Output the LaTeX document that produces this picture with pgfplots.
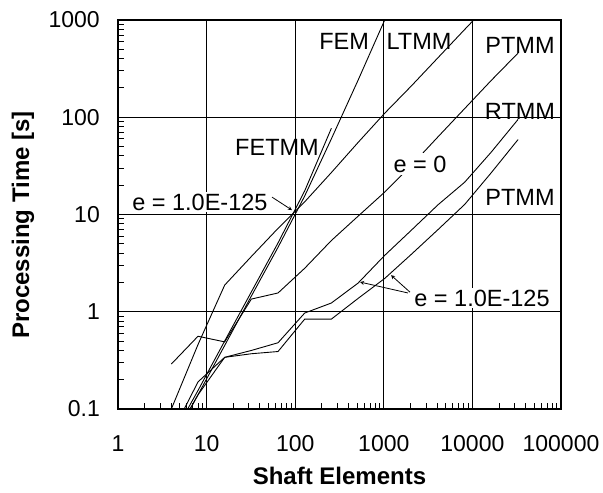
\documentclass[border=0pt]{standalone}
\usepackage{fontspec}
\setmainfont{Liberation Sans}
\usepackage{pgfplots}
\pgfplotsset{compat=1.18}
\begin{document}
\begin{tikzpicture}
\begin{loglogaxis}[
  name=ax,
  scale only axis,
  width=443pt, height=389pt,
  xmin=1, xmax=100000, ymin=0.1, ymax=1000,
  xtick={1,10,100,1000,10000,100000},
  xticklabels={1,10,100,1000,10000,100000},
  ytick={0.1,1,10,100,1000},
  yticklabels={0.1,1,10,100,1000},
  minor xtick={2,3,4,5,6,7,8,9,20,30,40,50,60,70,80,90,200,300,400,500,600,700,800,900,2000,3000,4000,5000,6000,7000,8000,9000,20000,30000,40000,50000,60000,70000,80000,90000},
  minor ytick={0.2,0.3,0.4,0.5,0.6,0.7,0.8,0.9,2,3,4,5,6,7,8,9,20,30,40,50,60,70,80,90,200,300,400,500,600,700,800,900},
  grid=major,
  major grid style={black, line width=1.2pt},
  axis line style={line width=1.2pt},
  xtick pos=bottom, ytick pos=left, tick align=inside,
  major tick length=6pt, minor tick length=6pt,
  tick style={black, line width=1pt},
  ticklabel style={font=\fontsize{23}{27}\selectfont, inner sep=0pt},
  xticklabel style={anchor=north, yshift=-26pt},
  yticklabel style={anchor=east, xshift=-18pt},
  xlabel={Shaft Elements}, ylabel={Processing Time [s]},
  label style={font=\bfseries\fontsize{24}{28}\selectfont},
  xlabel style={at={(axis description cs:0.5,-0.172)}, anchor=center},
  ylabel style={at={(axis description cs:-0.2144,0.473)}, anchor=center},
  crv/.style={black, line width=0.9pt, mark=none},
]
% FEM
\addplot[crv] coordinates {(4,0.045) (8,0.14) (16,0.45) (32,1.45) (64,4.6) (128,15.5) (256,60) (512,240) (1024,1000)};
% FETMM
\addplot[crv] coordinates {(4,0.05) (8,0.155) (16,0.5) (32,1.6) (64,5.1) (128,17.5) (256,77)};
% LTMM
\addplot[crv] coordinates {(4,0.1) (8,0.46) (16,1.88) (32,3.7) (64,7.2) (128,13.5) (256,27) (512,55) (1024,110) (2048,210) (4096,410) (8192,800) (16384,1550)};
% PTMM, e = 0
\addplot[crv] coordinates {(4,0.29) (8,0.56) (16,0.49) (32,1.35) (64,1.56) (128,2.8) (256,5.4) (512,9.6) (1024,17) (2048,32) (4096,63) (8192,123) (16384,240) (32768,457)};
% RTMM, e = 1.0E-125
\addplot[crv] coordinates {(4,0.055) (8,0.19) (16,0.34) (32,0.4) (64,0.48) (128,0.97) (256,1.23) (512,1.97) (1024,3.8) (2048,6.9) (4096,12.6) (8192,21.5) (16384,44) (32768,95)};
% PTMM, e = 1.0E-125
\addplot[crv] coordinates {(4,0.045) (8,0.14) (16,0.34) (32,0.37) (64,0.39) (128,0.84) (256,0.84) (512,1.37) (1024,2.2) (2048,3.9) (4096,7.0) (8192,12.7) (16384,27) (32768,59)};

\begin{scope}[every node/.style={font=\fontsize{23.5}{27}\selectfont, inner sep=1pt}]
\node at (axis cs:356,605) {FEM};
\node at (axis cs:2496,605) {LTMM};
\node at (axis cs:34450,551) {PTMM};
\node at (axis cs:34450,115.6) {RTMM};
\node at (axis cs:34450,15.1) {PTMM};
\node at (axis cs:62.3,49.3) {FETMM};
\node[fill=white, inner sep=3pt] at (axis cs:2564,33) {e = 0};
\node[fill=white, inner sep=2pt] at (axis cs:8.4,13.4) {e = 1.0E-125};
\node[fill=white, inner sep=2pt] at (axis cs:12830,1.38) {e = 1.0E-125};
\end{scope}
\draw[-stealth, line width=0.8pt] (axis cs:54.7,15.1) -- (axis cs:92,11.1);
\draw[-stealth, line width=0.8pt] (axis cs:1876,1.56) -- (axis cs:539,2.02);
\draw[-stealth, line width=0.8pt] (axis cs:1976,1.59) -- (axis cs:1206,2.38);
\end{loglogaxis}
\path ([shift={(-118pt,-84pt)}]ax.south west) rectangle ([shift={(42pt,20pt)}]ax.north east);
\end{tikzpicture}
\end{document}
